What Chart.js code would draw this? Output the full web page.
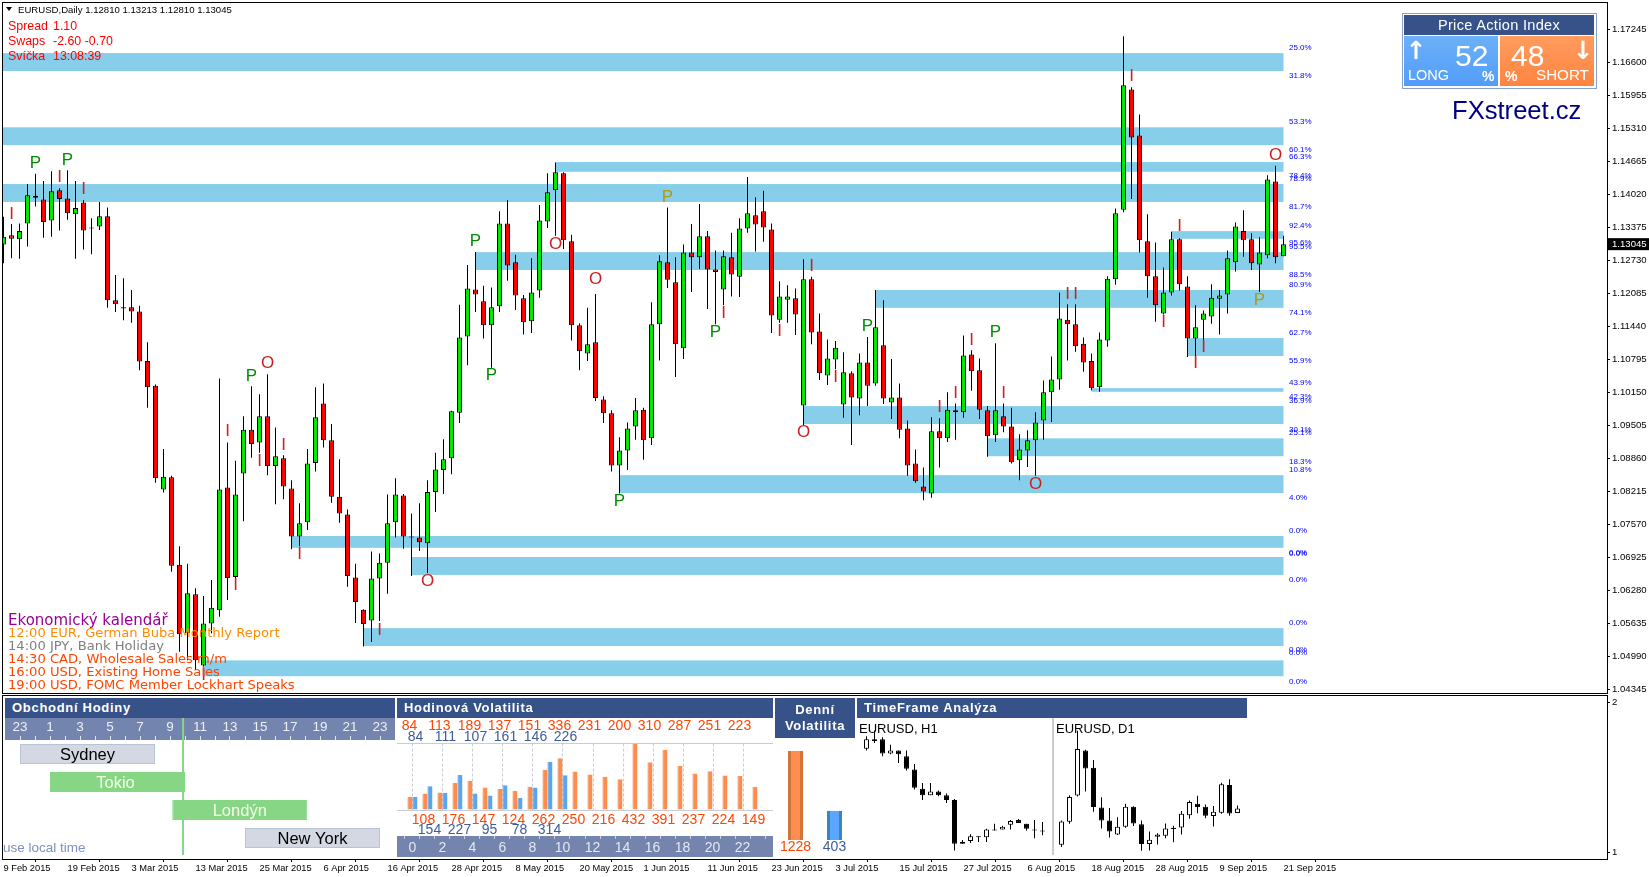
<!DOCTYPE html>
<html>
<head>
<meta charset="utf-8">
<title>EURUSD Daily</title>
<script src="https://cdn.jsdelivr.net/npm/chart.js@4/dist/chart.umd.min.js"></script>
<style>
  html, body { margin: 0; padding: 0; background: #fff; width: 1649px; height: 877px; overflow: hidden; }
  canvas { position: absolute; display: block; }
  .t { position: absolute; white-space: nowrap; z-index: 10; font-family: "Liberation Sans", sans-serif; }
  .head { position: absolute; background: #365288; color: #fff; z-index: 5; font: bold 13px "Liberation Sans", sans-serif; letter-spacing: .7px; box-sizing: border-box; }
  .cal { font-family: "DejaVu Sans", sans-serif; font-size: 13.1px; line-height: 13px; left: 8px; }
</style>
</head>
<body>
<canvas id="mainChart" width="1649" height="695" style="left:0;top:0"></canvas>
<canvas id="subChart" width="1649" height="182" style="left:0;top:695px"></canvas>
<canvas id="sessionChart" width="390" height="139" style="left:5px;top:718px"></canvas>
<canvas id="hourlyChart" width="376" height="138" style="left:397px;top:719px"></canvas>
<canvas id="dailyChart" width="78" height="118" style="left:776px;top:740px"></canvas>
<canvas id="h1Chart" width="196" height="121" style="left:857px;top:730px"></canvas>
<canvas id="d1Chart" width="193" height="121" style="left:1054px;top:730px"></canvas>

<div class="t" style="left:6px;top:7px;width:0;height:0;border-left:3.5px solid transparent;border-right:3.5px solid transparent;border-top:4px solid #000"></div>
<div class="t" style="left:18px;top:4px;font-size:9.6px;line-height:12px;color:#000">EURUSD,Daily 1.12810 1.13213 1.12810 1.13045</div>
<div class="t" style="left:8px;top:19px;font-size:12.4px;line-height:14px;color:#f00">Spread</div>
<div class="t" style="left:53px;top:19px;font-size:12.4px;line-height:14px;color:#f00">1.10</div>
<div class="t" style="left:8px;top:34px;font-size:12.4px;line-height:14px;color:#f00">Swaps</div>
<div class="t" style="left:53px;top:34px;font-size:12.4px;line-height:14px;color:#f00">-2.60 -0.70</div>
<div class="t" style="left:8px;top:49px;font-size:12.4px;line-height:14px;color:#f00">Svíčka</div>
<div class="t" style="left:53px;top:49px;font-size:12.4px;line-height:14px;color:#f00">13:08:39</div>

<div class="t cal" style="top:612px;font-size:15px;line-height:16px;color:#990099">Ekonomický kalendář</div>
<div class="t cal" style="top:626px;color:#ff8c00">12:00 EUR, German Buba Monthly Report</div>
<div class="t cal" style="top:639px;color:#808080">14:00 JPY, Bank Holiday</div>
<div class="t cal" style="top:652px;color:#ff4500">14:30 CAD, Wholesale Sales m/m</div>
<div class="t cal" style="top:665px;color:#ff4500">16:00 USD, Existing Home Sales</div>
<div class="t cal" style="top:678px;color:#ff4500">19:00 USD, FOMC Member Lockhart Speaks</div>

<div style="position:absolute;left:1402px;top:13px;width:193px;height:74px;border:1px solid #8aa0c8;z-index:4;box-sizing:content-box"></div>
<div class="head" style="left:1404px;top:15px;width:190px;height:20px;font-weight:normal;font-size:14.6px;line-height:20px;text-align:center;letter-spacing:.3px">Price Action Index</div>
<div style="position:absolute;left:1404px;top:36px;width:94px;height:50px;background:linear-gradient(#6cb0f8,#529dfa);z-index:4"></div>
<div style="position:absolute;left:1500px;top:36px;width:94px;height:50px;background:linear-gradient(#ff9c5e,#ff8440);z-index:4"></div>
<div class="t" style="left:1404px;top:38px;width:24px;color:#fff;font:bold 25px/26px 'DejaVu Sans';text-align:center">↑</div>
<div class="t" style="left:1571px;top:38px;width:24px;color:#fff;font:bold 25px/26px 'DejaVu Sans';text-align:center">↓</div>
<div class="t" style="left:1455px;top:39px;color:#fff;font-size:30px;line-height:34px">52</div>
<div class="t" style="left:1511px;top:39px;color:#fff;font-size:30px;line-height:34px">48</div>
<div class="t" style="left:1408px;top:66px;color:#fff;font-size:14.5px;line-height:18px">LONG</div>
<div class="t" style="left:1536px;top:66px;color:#fff;font-size:15.2px;line-height:18px">SHORT</div>
<div class="t" style="left:1482px;top:69px;color:#fff;font-size:14px;line-height:15px;font-weight:bold">%</div>
<div class="t" style="left:1505px;top:69px;color:#fff;font-size:14px;line-height:15px;font-weight:bold">%</div>
<div class="t" style="left:1452px;top:95px;color:#000080;font-size:25.6px;line-height:30px">FXstreet.cz</div>

<div class="head" style="left:5px;top:698px;width:390px;height:20px;line-height:20px;padding-left:7px">Obchodní Hodiny</div>
<div class="head" style="left:397px;top:698px;width:376px;height:20px;line-height:20px;padding-left:7px">Hodinová Volatilita</div>
<div class="head" style="left:775px;top:698px;width:80px;height:40px;line-height:16px;padding-top:4px;text-align:center">Denní<br>Volatilita</div>
<div class="head" style="left:857px;top:698px;width:390px;height:20px;line-height:20px;padding-left:7px">TimeFrame Analýza</div>
<div class="t" style="left:859px;top:721px;color:#000;font-size:13px;line-height:16px">EURUSD, H1</div>
<div class="t" style="left:1056px;top:721px;color:#000;font-size:13px;line-height:16px">EURUSD, D1</div>
<div style="position:absolute;left:1052px;top:718px;width:2px;height:137px;background:#c8ccd8;z-index:3"></div>
<div class="t" style="left:3px;top:840px;width:90px;overflow:hidden;color:#8090c0;font-size:13.5px;line-height:16px">use local time</div>

<script>
// --- main chart values, daily bars from the first visible one ---
const candleOpen = [
  1.1304,1.1322,1.1314,1.1345,1.1399,1.1392,1.1351,1.1410,1.1394,1.1363,
  1.1386,1.1337,1.1339,1.1359,1.1195,1.1181,1.1181,1.1173,1.1076,1.1028,
  1.0825,1.0849,1.0678,1.0544,1.0620,1.0481,1.0563,1.0589,1.0829,1.0654,
  1.0856,1.0942,1.0917,1.0968,1.0871,1.0886,1.0827,1.0733,1.0761,1.0877,
  1.0993,1.0921,1.0811,1.0776,1.0653,1.0590,1.0569,1.0651,1.0682,1.0761,
  1.0813,1.0733,1.0731,1.0720,1.0820,1.0863,1.0886,1.0975,1.1124,1.1216,
  1.1193,1.1146,1.1183,1.1345,1.1269,1.1199,1.1154,1.1214,1.1349,1.1410,
  1.1443,1.1310,1.1146,1.1091,1.1113,1.1001,1.0974,1.0872,1.0901,1.0948,
  1.0981,1.0925,1.1148,1.1269,1.1230,1.1101,1.1288,1.1279,1.1320,1.1255,
  1.1216,1.1279,1.1241,1.1335,1.1361,1.1369,1.1333,1.1157,1.1196,1.1199,
  1.0989,1.1236,1.1134,1.1048,1.1079,1.0991,1.1052,1.1003,1.1073,1.1032,
  1.1107,1.0995,1.1005,1.0944,1.0876,1.0831,1.0817,1.0939,1.0925,1.0980,
  1.0976,1.1089,1.1058,1.0980,1.0931,1.0968,1.0948,1.0882,1.0901,1.0921,
  1.0960,1.1015,1.1040,1.1157,1.1148,1.1110,1.1076,1.1025,1.1116,1.1236,
  1.1372,1.1607,1.1517,1.1310,1.1242,1.1169,1.1210,1.1314,1.1222,1.1120,
  1.1157,1.1163,1.1198,1.1206,1.1269,1.1330,1.1314,1.1265,1.1283,1.1427,1.1281
];
const candleHigh = [
  1.1358,1.1344,1.1345,1.1422,1.1442,1.1428,1.1447,1.1414,1.1449,1.1428,
  1.1391,1.1355,1.1387,1.1376,1.1244,1.1238,1.1215,1.1184,1.1113,1.1030,
  1.0904,1.0852,1.0714,1.0680,1.0632,1.0617,1.0648,1.1042,1.0917,1.0881,
  1.0968,1.1027,1.1011,1.1050,1.0946,1.0892,1.0843,1.0798,1.0904,1.1025,
  1.1032,1.0953,1.0884,1.0786,1.0680,1.0591,1.0704,1.0700,1.0815,1.0847,
  1.0816,1.0778,1.0798,1.0843,1.0897,1.0923,1.0979,1.1186,1.1264,1.1289,
  1.1223,1.1220,1.1369,1.1391,1.1284,1.1205,1.1277,1.1381,1.1443,1.1464,
  1.1445,1.1323,1.1150,1.1180,1.1207,1.1007,1.0980,1.0927,1.0956,1.1004,
  1.0985,1.1191,1.1283,1.1376,1.1279,1.1304,1.1344,1.1383,1.1330,1.1292,
  1.1292,1.1327,1.1355,1.1436,1.1396,1.1409,1.1345,1.1232,1.1224,1.1218,
  1.1275,1.1241,1.1169,1.1118,1.1115,1.1093,1.1056,1.1091,1.1123,1.1215,
  1.1195,1.1080,1.1032,1.0960,1.0903,1.0868,1.0966,1.0964,1.1015,1.0993,
  1.1126,1.1097,1.1081,1.0988,1.1111,1.0993,1.0985,1.0933,1.0941,1.0976,
  1.1038,1.1085,1.1210,1.1187,1.1187,1.1122,1.1091,1.1132,1.1242,1.1374,
  1.1711,1.1611,1.1558,1.1363,1.1308,1.1259,1.1329,1.1316,1.1242,1.1185,
  1.1175,1.1226,1.1215,1.1292,1.1347,1.1371,1.1326,1.1318,1.1439,1.1458,1.1321
];
const candleLow = [
  1.1267,1.1277,1.1276,1.1300,1.1378,1.1317,1.1319,1.1331,1.1352,1.1276,
  1.1294,1.1285,1.1332,1.1180,1.1172,1.1156,1.1151,1.1058,1.0985,1.0838,
  1.0819,1.0664,1.0508,1.0491,1.0472,1.0456,1.0544,1.0576,1.0609,1.0651,
  1.0763,1.0887,1.0897,1.0853,1.0796,1.0806,1.0708,1.0714,1.0746,1.0860,
  1.0907,1.0799,1.0760,1.0635,1.0564,1.0518,1.0527,1.0568,1.0621,1.0731,
  1.0709,1.0656,1.0705,1.0662,1.0781,1.0816,1.0855,1.0955,1.1068,1.1172,
  1.1120,1.1063,1.1172,1.1233,1.1176,1.1128,1.1131,1.1200,1.1336,1.1321,
  1.1295,1.1116,1.1058,1.1076,1.0998,1.0955,1.0860,1.0817,1.0863,1.0922,
  1.0883,1.0912,1.1077,1.1219,1.1045,1.1080,1.1211,1.1256,1.1178,1.1148,
  1.1185,1.1202,1.1201,1.1327,1.1290,1.1309,1.1131,1.1151,1.1151,1.1127,
  1.0951,1.1109,1.1039,1.1029,1.1060,1.0965,1.0912,1.0970,1.0988,1.1028,
  1.0992,1.0963,1.0925,1.0852,1.0838,1.0804,1.0809,1.0868,1.0918,1.0922,
  1.0965,1.1018,1.0963,1.0889,1.0918,1.0937,1.0876,1.0843,1.0869,1.0852,
  1.0922,1.0957,1.1020,1.1077,1.1094,1.1055,1.1019,1.1016,1.1104,1.1225,
  1.1367,1.1393,1.1288,1.1200,1.1153,1.1167,1.1204,1.1214,1.1084,1.1086,
  1.1117,1.1149,1.1128,1.1169,1.1251,1.1280,1.1254,1.1211,1.1277,1.1267,1.1281
];
const candleClose = [
  1.1319,1.1315,1.1330,1.1400,1.1395,1.1348,1.1408,1.1393,1.1365,1.1375,
  1.1331,1.1335,1.1359,1.1195,1.1187,1.1179,1.1173,1.1075,1.1025,1.0847,
  1.0850,1.0676,1.0542,1.0622,1.0491,1.0563,1.0594,1.0825,1.0652,1.0815,
  1.0942,1.0914,1.0968,1.0871,1.0890,1.0831,1.0733,1.0759,1.0876,1.0966,
  1.0921,1.0811,1.0778,1.0656,1.0605,1.0562,1.0651,1.0682,1.0759,1.0815,
  1.0733,1.0731,1.0722,1.0820,1.0864,1.0884,1.0978,1.1122,1.1218,1.1206,
  1.1146,1.1181,1.1345,1.1263,1.1204,1.1152,1.1210,1.1351,1.1406,1.1445,
  1.1312,1.1146,1.1095,1.1109,1.1004,1.0974,1.0872,1.0901,1.0944,1.0980,
  1.0921,1.1148,1.1271,1.1235,1.1109,1.1288,1.1279,1.1320,1.1255,1.1250,
  1.1281,1.1245,1.1335,1.1365,1.1343,1.1337,1.1165,1.1202,1.1202,1.1167,
  1.1236,1.1132,1.1052,1.1081,1.1102,1.1054,1.1005,1.1073,1.1028,1.1142,
  1.1003,1.1005,1.0942,1.0872,1.0841,1.0821,1.0939,1.0925,1.0981,1.0976,
  1.1087,1.1056,1.0981,1.0929,1.0980,1.0948,1.0878,1.0903,1.0921,1.0956,
  1.1015,1.1040,1.1159,1.1148,1.1105,1.1073,1.1023,1.1118,1.1237,1.1365,
  1.1615,1.1513,1.1312,1.1242,1.1185,1.1210,1.1314,1.1226,1.1120,1.1142,
  1.1169,1.1200,1.1204,1.1277,1.1339,1.1312,1.1267,1.1288,1.1431,1.1279,1.13045
];

// supply/demand zones: first bar, upper and lower price
const bandStart  = [-1, -1, 69, -1, 59, 146, 109, 148, 136, 100, 123, 77, 36, 51, 45, 25];
const bandUpper  = [1.1678,1.1533,1.1465,1.1422,1.1289,1.1330,1.1215,1.1121,1.1023,1.0988,1.0925,1.0853,1.0734,1.0693,1.0554,1.0491];
const bandLower  = [1.1643,1.1498,1.1446,1.1387,1.1254,1.1315,1.1180,1.1086,1.1016,1.0953,1.0890,1.0818,1.0711,1.0658,1.0519,1.0460];
const bandEndBar = 160;

// blue percentages right of the zones
const levelLabels = ['25.0%','31.8%','53.3%','60.1%','66.3%','78.4%','78.9%','81.7%','92.4%','95.6%','95.5%','88.5%','80.9%','74.1%','62.7%','55.9%','43.9%','42.3%','36.9%','30.1%','25.1%','18.3%','10.8%','4.0%','0.0%','0.0%','0.0%','0.0%','0.0%','0.0%','0.0%','0.0%'];
const levelPrices = [1.1688,1.1633,1.1543,1.1489,1.1475,1.1438,1.1432,1.1377,1.1340,1.1307,1.1299,1.1244,1.1225,1.1170,1.1131,1.1076,1.1033,1.1006,1.0998,1.0941,1.0935,1.0880,1.0863,1.0808,1.0744,1.0701,1.0700,1.0648,1.0564,1.0511,1.0506,1.0450];

// P / O / I pattern letters
const markerText  = ['P','P','I','I','I','P','P','O','P','I','I','I','I','I','I','I','O','O','P','O','P','I','I','P','O','I','I','P','I','I','I','P','I','O','I','I','I','I','I','O','P','I','I'];
const markerBar   = [4,8,1,7,10,59,31,33,61,28,32,35,37,29,47,25,53,69,83,74,89,90,97,77,100,101,104,108,117,119,121,124,125,129,133,134,141,147,145,159,157,150,149];
const markerPrice = [1.1462,1.1469,1.1363,1.1435,1.1411,1.1310,1.1047,1.1071,1.1049,1.0938,1.0881,1.0912,1.0699,1.0637,1.0549,1.0462,1.0646,1.1305,1.1397,1.1236,1.1133,1.1170,1.1135,1.0801,1.0936,1.1262,1.1044,1.1143,1.0985,1.1013,1.1117,1.1133,1.1013,1.0835,1.1207,1.1207,1.1632,1.1339,1.1151,1.1479,1.1195,1.1102,1.1071];
const oliveMarkers = [83, 157];

const priceTicks = [1.17245,1.16600,1.15955,1.15310,1.14665,1.14020,1.13375,1.12730,1.12085,1.11440,1.10795,1.10150,1.09505,1.08860,1.08215,1.07570,1.06925,1.06280,1.05635,1.04990,1.04345];
const dateLabels = ['9 Feb 2015','19 Feb 2015','3 Mar 2015','13 Mar 2015','25 Mar 2015','6 Apr 2015','16 Apr 2015','28 Apr 2015','8 May 2015','20 May 2015','1 Jun 2015','11 Jun 2015','23 Jun 2015','3 Jul 2015','15 Jul 2015','27 Jul 2015','6 Aug 2015','18 Aug 2015','28 Aug 2015','9 Sep 2015','21 Sep 2015'];
const lastPrice = 1.13045;

// trading sessions, in hours of the strip (23 = -1)
const sessionNames = ['Sydney','Tokio','Londýn','New York'];
const sessionStart = [-1, 1, 9.15, 14];
const sessionEnd   = [8, 10, 18.15, 23];
const nowHour = 9.87;

// hourly and daily volatility
const hourlyToday = [84,108,113,176,189,147,137,124,151,262,336,250,231,216,200,432,310,391,287,237,251,224,223,149];
const hourlyNow   = [84,154,111,227,107,95,161,78,146,314,226];
const dailyLabels = ['1228','403'];
const dailyValues = [1228, 403];

// H1 window of the TimeFrame panel
const h1Open  = [1.1391,1.1401,1.1401,1.1386,1.1389,1.1383,1.1369,1.1349,1.1342,1.1346,1.1342,1.1337,1.1293,1.1294,1.1299,1.1298,1.1306,1.1306,1.1311,1.1316,1.1312,1.1306,1.1305];
const h1High  = [1.1404,1.1410,1.1403,1.1395,1.1389,1.1389,1.1375,1.1355,1.1355,1.1347,1.1344,1.1338,1.1295,1.1301,1.1299,1.1307,1.1312,1.1310,1.1316,1.1317,1.1312,1.1316,1.1314];
const h1Low   = [1.1389,1.1397,1.1383,1.1385,1.1376,1.1368,1.1348,1.1337,1.1342,1.1341,1.1334,1.1284,1.1291,1.1292,1.1293,1.1293,1.1305,1.1306,1.1306,1.1313,1.1305,1.1297,1.1300];
const h1Close = [1.1401,1.1399,1.1386,1.1389,1.1385,1.1370,1.1350,1.1342,1.1346,1.1342,1.1337,1.1291,1.1291,1.1299,1.1298,1.1306,1.1305,1.1309,1.1315,1.1313,1.1307,1.1305,1.1304];
const d1FirstBar = 138;

Chart.defaults.font.family = '"Liberation Sans", sans-serif';
const axisFont = { size: 9.6 };

// wick + body pair drawn as floating bars
function candleDatasets(o, h, l, c, upColor, downColor) {
  return [
    {
      data: l.map((v, i) => ({ x: i, y: [v, h[i]] })),
      backgroundColor: '#000', barThickness: 1, grouped: false,
      inflateAmount: 0, borderWidth: 0, order: 2
    },
    {
      data: o.map((v, i) => ({ x: i, y: [v, c[i]] })),
      backgroundColor: o.map((v, i) => (c[i] >= v ? upColor : downColor)),
      borderColor: '#000', borderWidth: 1, borderSkipped: false,
      barThickness: 5, grouped: false, inflateAmount: 0, order: 1
    }
  ];
}

function hideMargins(scale) {
  scale.paddingTop = scale.paddingBottom = scale.paddingLeft = scale.paddingRight = 0;
}

const baseOptions = {
  responsive: false,
  animation: false,
  devicePixelRatio: 1,
  events: [],
  plugins: { legend: { display: false }, tooltip: { enabled: false } }
};

const framePlugin = {
  id: 'frame',
  afterDraw(chart) {
    const { ctx, chartArea: a } = chart;
    ctx.save();
    ctx.strokeStyle = '#000';
    ctx.lineWidth = 1;
    ctx.strokeRect(a.left - 0.5, a.top - 0.5, a.right - a.left + 1, a.bottom - a.top + 1);
    ctx.restore();
  }
};

// --- main chart ---
new Chart(document.getElementById('mainChart'), {
  type: 'bar',
  data: { datasets: candleDatasets(candleOpen, candleHigh, candleLow, candleClose, '#00e800', '#ff0000') },
  options: {
    ...baseOptions,
    layout: { padding: { left: 3, top: 3, bottom: 2, right: 0 } },
    scales: {
      x: { type: 'linear', display: false, offset: false, min: -0.0625, max: 200.4375 },
      y: {
        position: 'right', min: 1.04272, max: 1.17759,
        border: { display: false },
        grid: { drawOnChartArea: false, tickLength: 3, color: '#000' },
        afterBuildTicks(scale) { scale.ticks = priceTicks.map(v => ({ value: v })); },
        afterFit(scale) { scale.width = 42; hideMargins(scale); },
        ticks: {
          autoSkip: false, padding: 2, color: '#000', font: axisFont,
          callback: v => v.toFixed(5)
        }
      }
    }
  },
  plugins: [framePlugin, {
    id: 'zones',
    beforeDatasetsDraw(chart) {
      const { ctx, chartArea: a, scales: { x, y } } = chart;
      ctx.save();
      ctx.fillStyle = '#87ceeb';
      bandStart.forEach((start, i) => {
        const x0 = start < 0 ? a.left : x.getPixelForValue(start);
        const y0 = y.getPixelForValue(bandUpper[i]);
        ctx.fillRect(x0, y0, x.getPixelForValue(bandEndBar) - x0, y.getPixelForValue(bandLower[i]) - y0);
      });
      ctx.restore();
    },
    afterDatasetsDraw(chart) {
      const { ctx, scales: { x, y } } = chart;
      ctx.save();
      ctx.textBaseline = 'middle';
      ctx.textAlign = 'left';
      ctx.font = '8px "Liberation Sans"';
      ctx.fillStyle = '#0000ff';
      levelLabels.forEach((txt, i) => ctx.fillText(txt, x.getPixelForValue(bandEndBar) + 5.5, y.getPixelForValue(levelPrices[i])));
      ctx.textAlign = 'center';
      ctx.font = '17px "Liberation Sans"';
      markerText.forEach((txt, i) => {
        let color = txt === 'P' ? '#008c00' : '#cc2020';
        if (txt === 'P' && oliveMarkers.includes(markerBar[i])) color = '#b09a10';
        ctx.fillStyle = color;
        ctx.fillText(txt, x.getPixelForValue(markerBar[i]), y.getPixelForValue(markerPrice[i]));
      });
      // current price box on the axis
      const py = y.getPixelForValue(lastPrice);
      ctx.fillStyle = '#000';
      ctx.fillRect(1608, py - 6, 41, 12);
      ctx.fillStyle = '#fff';
      ctx.textAlign = 'left';
      ctx.font = '9.6px "Liberation Sans"';
      ctx.fillText(lastPrice.toFixed(5), 1612, py);
      ctx.restore();
    }
  }]
});

// --- bottom window: time axis and its own right scale ---
new Chart(document.getElementById('subChart'), {
  type: 'bar',
  data: { datasets: [{ data: [] }] },
  options: {
    ...baseOptions,
    layout: { padding: { left: 3, top: 1, right: 0, bottom: 0 } },
    scales: {
      x: {
        type: 'linear', offset: false, min: -0.0625, max: 200.4375,
        border: { display: false },
        grid: { drawOnChartArea: false, tickLength: 3, color: '#000' },
        afterBuildTicks(scale) { scale.ticks = dateLabels.map((d, i) => ({ value: i * 8 })); },
        afterFit(scale) { scale.height = 18; hideMargins(scale); },
        ticks: {
          autoSkip: false, maxRotation: 0, align: 'start', padding: 1, color: '#000', font: { size: 9.3 },
          callback: v => dateLabels[v / 8]
        }
      },
      y: {
        position: 'right', min: 0.954, max: 2.04,
        border: { display: false },
        grid: { drawOnChartArea: false, tickLength: 3, color: '#000' },
        afterBuildTicks(scale) { scale.ticks = [{ value: 1 }, { value: 2 }]; },
        afterFit(scale) { scale.width = 42; hideMargins(scale); },
        ticks: { padding: 2, color: '#000', font: axisFont, callback: v => String(v) }
      }
    }
  },
  plugins: [framePlugin]
});

// --- trading sessions ---
new Chart(document.getElementById('sessionChart'), {
  type: 'bar',
  data: {
    labels: sessionNames,
    datasets: [{
      data: sessionStart.map((v, i) => [v, sessionEnd[i]]),
      backgroundColor: ['#d4d8e3', '#86d686', '#86d686', '#d4d8e3'],
      borderColor: ['#b9c3d8', '#86d686', '#86d686', '#b9c3d8'],
      borderWidth: 1, borderSkipped: false, barThickness: 20, inflateAmount: 0
    }]
  },
  options: {
    ...baseOptions,
    indexAxis: 'y',
    layout: { padding: { top: 0, bottom: 5, left: 0, right: 0 } },
    scales: {
      x: {
        type: 'linear', position: 'top', offset: false, min: -2, max: 24,
        border: { display: false },
        grid: { drawOnChartArea: false, tickLength: 4, color: '#e4e8f2' },
        afterBuildTicks(scale) { scale.ticks = Array.from({ length: 25 }, (_, i) => ({ value: i - 1 })); },
        afterFit(scale) { scale.height = 22; hideMargins(scale); },
        ticks: {
          autoSkip: false, maxRotation: 0, padding: 1, color: '#eef0f8', font: { size: 13.5 },
          callback: v => (Math.abs(v) % 2 === 1 ? String((v + 24) % 24) : '')
        }
      },
      y: { display: false, offset: true }
    }
  },
  plugins: [{
    id: 'sessionStrip',
    beforeDraw(chart) {
      const { ctx, chartArea: a, width } = chart;
      ctx.save();
      ctx.fillStyle = '#7384ae';
      ctx.fillRect(0, 0, width, a.top);
      ctx.restore();
    },
    beforeDatasetsDraw(chart) {
      const { ctx, scales: { x }, height } = chart;
      ctx.save();
      ctx.fillStyle = '#86d686';
      ctx.fillRect(x.getPixelForValue(nowHour) - 1, 0, 2, height - 2);
      ctx.restore();
    },
    afterDatasetsDraw(chart) {
      const { ctx, scales: { x, y } } = chart;
      ctx.save();
      ctx.font = '16.5px "Liberation Sans"';
      ctx.textAlign = 'center';
      ctx.textBaseline = 'middle';
      sessionNames.forEach((name, i) => {
        ctx.fillStyle = (i === 1 || i === 2) ? '#f4ffe8' : '#000';
        ctx.fillText(name, x.getPixelForValue((sessionStart[i] + sessionEnd[i]) / 2) - (i === 1 ? 2 : 0), y.getPixelForValue(i) + 1.5);
      });
      ctx.restore();
    }
  }]
});

// --- hourly volatility ---
new Chart(document.getElementById('hourlyChart'), {
  type: 'bar',
  data: {
    datasets: [
      {
        data: hourlyToday.map((v, i) => ({ x: i, y: v })),
        backgroundColor: '#ff8c4d', borderColor: '#d97a3f', borderWidth: { left: 1 },
        barThickness: 5, categoryPercentage: 0.8, barPercentage: 1, inflateAmount: 0
      },
      {
        data: hourlyNow.map((v, i) => ({ x: i, y: v })),
        backgroundColor: '#5aa5f2', borderColor: '#3f86c8', borderWidth: { left: 1 },
        barThickness: 5, categoryPercentage: 0.8, barPercentage: 1, inflateAmount: 0
      }
    ]
  },
  options: {
    ...baseOptions,
    layout: { padding: { top: 24.5, bottom: 0, left: 0, right: 0 } },
    scales: {
      x: {
        type: 'linear', offset: false, min: -1.033, max: 24.033,
        border: { display: false },
        grid: { drawOnChartArea: false, tickLength: 3, color: '#c8ccd8' },
        afterBuildTicks(scale) { scale.ticks = hourlyToday.map((v, i) => ({ value: i })); },
        afterFit(scale) { scale.height = 21; hideMargins(scale); },
        ticks: {
          autoSkip: false, maxRotation: 0, padding: 1, color: '#e4e8f2', font: { size: 14 },
          callback: v => (v % 2 === 0 ? String(v) : '')
        }
      },
      y: {
        min: -168.8, max: 432,
        border: { display: false },
        grid: { color: '#c8ccd8', drawTicks: false },
        afterBuildTicks(scale) { scale.ticks = [{ value: 0 }, { value: 432 }]; },
        afterFit(scale) { scale.width = 0; hideMargins(scale); },
        ticks: { display: false }
      }
    }
  },
  plugins: [{
    id: 'hourStrip',
    beforeDraw(chart) {
      const { ctx, chartArea: a, height, width } = chart;
      ctx.save();
      ctx.fillStyle = '#7384ae';
      ctx.fillRect(0, a.bottom, width, height - a.bottom);
      ctx.restore();
    },
    beforeDatasetsDraw(chart) {
      const { ctx, scales: { x, y } } = chart;
      ctx.save();
      ctx.strokeStyle = '#c8ccd8';
      ctx.setLineDash([3, 2]);
      hourlyToday.forEach((v, i) => {
        if (i % 2) return;
        const px = Math.round(x.getPixelForValue(i)) + 0.5;
        ctx.beginPath();
        ctx.moveTo(px, y.getPixelForValue(432));
        ctx.lineTo(px, y.getPixelForValue(0));
        ctx.stroke();
      });
      ctx.restore();
    },
    afterDatasetsDraw(chart) {
      const { ctx, scales: { x } } = chart;
      ctx.save();
      ctx.font = '14px "Liberation Sans"';
      ctx.textAlign = 'center';
      ctx.textBaseline = 'middle';
      ctx.fillStyle = '#ff4500';
      hourlyToday.forEach((v, i) => ctx.fillText(String(v), x.getPixelForValue(i) - 3 + (i % 2 ? -1 : 0), i % 2 ? 101 : 7.5));
      ctx.fillStyle = '#3f5c9a';
      hourlyNow.forEach((v, i) => ctx.fillText(String(v), x.getPixelForValue(i) + 3 + (i % 2 ? -1 : 0), i % 2 ? 111 : 18));
      ctx.restore();
    }
  }]
});

// --- daily volatility ---
new Chart(document.getElementById('dailyChart'), {
  type: 'bar',
  data: {
    labels: dailyLabels,
    datasets: [{
      data: dailyValues,
      backgroundColor: ['#ff8e50', '#5aa7ff'],
      borderColor: ['#d0743a', '#3a85c0'],
      borderWidth: { left: 3, right: 3 },
      barThickness: 15, inflateAmount: 0
    }]
  },
  options: {
    ...baseOptions,
    layout: { padding: { top: 11, bottom: 0, left: 0, right: 0 } },
    scales: {
      x: {
        border: { display: false },
        grid: { display: false, drawTicks: false },
        afterFit(scale) { scale.height = 18; hideMargins(scale); },
        ticks: {
          autoSkip: false, maxRotation: 0, padding: -1, font: { size: 14 },
          color: ctx => (ctx.index === 0 ? '#ff4500' : '#3f5c9a')
        }
      },
      y: { display: false, min: 0, max: 1228 }
    }
  }
});

// --- TimeFrame panel, H1 and D1 mini charts ---
function miniChart(id, o, h, l, c, xMin, xMax, yMin, yMax) {
  new Chart(document.getElementById(id), {
    type: 'bar',
    data: { datasets: candleDatasets(o, h, l, c, '#fff', '#000') },
    options: {
      ...baseOptions,
      scales: {
        x: { type: 'linear', display: false, offset: false, min: xMin, max: xMax },
        y: { display: false, min: yMin, max: yMax }
      }
    }
  });
}
miniChart('h1Chart', h1Open, h1High, h1Low, h1Close, -1.1875, 23.3125, 1.12835, 1.14106);
miniChart('d1Chart',
  candleOpen.slice(d1FirstBar), candleHigh.slice(d1FirstBar),
  candleLow.slice(d1FirstBar), candleClose.slice(d1FirstBar),
  -0.9375, 23.1875, 1.10829, 1.17145);
</script>
</body>
</html>
